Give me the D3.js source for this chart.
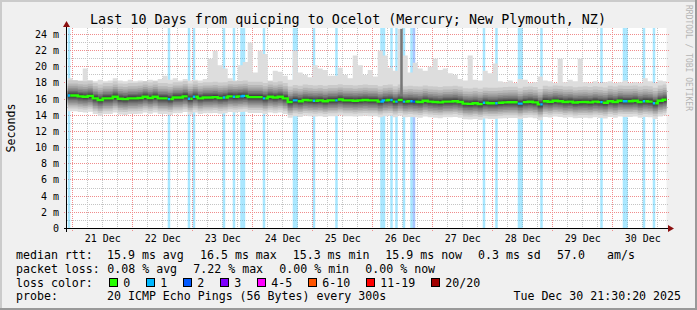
<!DOCTYPE html>
<html lang="en">
<head>
	<meta charset="utf-8">
	<title>SmokePing: Last 10 Days</title>
	<script src="https://d3js.org/d3.v7.min.js"></script>
	<style type="text/css">
		body { margin: 0; background: #f0f0f0; }
		svg text { font-family: "DejaVu Sans Mono", monospace; fill: #000; }
		.grid line { shape-rendering: crispEdges; stroke-dasharray: 1,1; }
	</style>
</head>
<body>
<script type="text/javascript">

	// Time window of the graph (wall clock times kept as UTC)
	var endTime = Date.UTC(2025, 11, 30, 21, 30, 20);
	var startTime = endTime - 10 * 24 * 3600 * 1000;
	var firstHour = Date.UTC(2025, 11, 20, 22, 0, 0);
	var HOUR = 3600 * 1000;

	// Y axis
	var yMax = 24.74;
	var yTicks = [0, 2, 4, 6, 8, 10, 12, 14, 16, 18, 20, 22, 24];
	var yMinor = [1, 3, 5, 7, 9, 11, 13, 15, 17, 19, 21, 23];

	// Median rtt (ms), one value per 2 hour bin
	var medianRtt = [
		16.45, 16.45, 16.35, 16.3, 16.4, 16.1, 15.9, 16.1, 16.1, 16.3,
		16.05, 16.0, 16.1, 16.1, 16.15, 16.3, 16.15, 16.3, 16.1, 16.1,
		16.0, 16.2, 16.2, 16.35, 16.05, 16.3, 16.1, 16.2, 16.2, 16.25,
		16.15, 16.2, 16.35, 16.3, 16.35, 16.4, 16.25, 16.25, 16.25, 16.1,
		16.3, 16.2, 16.3, 16.1, 15.65, 15.85, 15.75, 15.9, 15.85, 15.8,
		15.85, 15.75, 15.85, 15.85, 15.95, 15.85, 15.85, 15.8, 15.85, 15.9,
		15.85, 15.85, 15.7, 15.85, 15.9, 15.7, 15.9, 15.7, 15.75, 15.7,
		15.65, 15.8, 15.7, 15.65, 15.6, 15.7, 15.7, 15.75, 15.65, 15.45,
		15.42, 15.5, 15.38, 15.55, 15.5, 15.5, 15.55, 15.6, 15.62, 15.62,
		15.45, 15.63, 15.68, 15.6, 15.35, 15.75, 15.68, 15.8, 15.75, 15.65,
		15.7, 15.58, 15.63, 15.65, 15.6, 15.7, 15.63, 15.55, 15.75, 15.65,
		15.8, 15.75, 15.75, 15.8, 15.65, 15.75, 15.7, 15.5, 15.8, 15.92
	];

	// Highest ping (ms) in each 2 hour bin
	var pingMax = [
		18.6, 18.3, 18.3, 19.8, 18.3, 18.2, 18.4, 18.2, 18.3, 18.6,
		18.3, 18.2, 18.4, 18.2, 18.3, 18.2, 18.4, 18.3, 18.5, 18.9,
		18.4, 18.6, 18.3, 18.5, 18.3, 18.4, 18.3, 18.5, 21.0, 22.0,
		20.2, 19.8, 18.6, 18.3, 20.2, 20.6, 23.0, 19.3, 22.0, 21.6,
		18.3, 19.5, 19.4, 18.9, 18.4, 22.0, 19.3, 19.0, 18.7, 20.2,
		19.8, 19.6, 18.9, 18.9, 19.9, 19.0, 18.6, 21.4, 20.2, 19.0,
		19.6, 18.8, 22.0, 21.4, 19.9, 19.5, 24.7, 21.4, 19.3, 20.5,
		19.8, 19.5, 20.0, 21.0, 19.6, 19.8, 19.2, 19.0, 18.5, 18.3,
		21.4, 18.4, 18.3, 19.5, 19.2, 20.4, 18.2, 18.1, 18.3, 18.0,
		18.5, 18.4, 18.0, 18.1, 18.8, 18.3, 18.2, 18.0, 21.0, 18.1,
		18.4, 18.2, 21.0, 18.1, 18.0, 18.2, 18.0, 18.1, 18.2, 18.0,
		18.1, 18.3, 18.0, 18.1, 18.0, 18.6, 18.2, 18.0, 18.3, 18.2
	];

	// Sorted pings 1..19 around the median (ms offsets), as read from the smoke
	var smokeOffsets = [-1.95, -1.6, -1.35, -1.15, -0.95, -0.75, -0.55, -0.4, -0.25, -0.1,
		0.1, 0.25, 0.4, 0.55, 0.75, 0.95, 1.2, 1.5, 1.9];

	// Hours (counted from firstHour) with packet loss, and lost pings
	var lossHours = [0, 40, 48, 50, 62, 66, 69, 70, 78, 90, 91, 98, 107, 125, 126, 129,
		131, 134, 137, 138, 166, 171, 180, 181, 189, 213, 222, 223, 230, 234];
	var lossCounts = [1, 1, 1, 1, 1, 1, 1, 1, 1, 1, 1, 1, 1, 1, 1, 1,
		1, 1, 1, 2, 1, 1, 1, 1, 1, 1, 1, 1, 1, 1];

	// Single hour where most pings went high
	var burstHours = [133];
	var burstTops = [24.7];

	// Loss colour legend
	var lossLabels = ["0", "1", "2", "3", "4-5", "6-10", "11-19", "20/20"];
	var lossColors = ["#26ff00", "#00b8ff", "#0059ff", "#7e00ff", "#ff00ff", "#ff5500", "#ff0000", "#a10000"];

	var W = 697, H = 310;
	var plot = {left: 66.5, right: 666.5, top: 28, bottom: 228.5};

	var svg = d3.select("body")
		.append("svg")
		.attr("width", W)
		.attr("height", H);

	// Background and 3D frame
	svg.append("rect").attr("width", W).attr("height", H).attr("fill", "#f0f0f0");
	svg.append("rect").attr("x", 0).attr("y", 0).attr("width", W).attr("height", 2).attr("fill", "#cbcbcb");
	svg.append("rect").attr("x", 0).attr("y", 0).attr("width", 2).attr("height", H).attr("fill", "#cbcbcb");
	svg.append("rect").attr("x", 0).attr("y", H - 2).attr("width", W).attr("height", 2).attr("fill", "#999999");
	svg.append("rect").attr("x", W - 2).attr("y", 0).attr("width", 2).attr("height", H).attr("fill", "#999999");

	// Scales
	var xScale = d3.scaleUtc()
		.domain([startTime, endTime])
		.range([plot.left, plot.right]);

	var yScale = d3.scaleLinear()
		.domain([0, yMax])
		.range([plot.bottom, plot.top + 0.5]);

	function loss(h) {
		var i = lossHours.indexOf(h);
		return i < 0 ? 0 : lossCounts[i];
	}

	// Canvas
	svg.append("rect")
		.attr("x", plot.left).attr("y", plot.top)
		.attr("width", plot.right - plot.left)
		.attr("height", plot.bottom - plot.top)
		.attr("fill", "#ffffff");

	svg.append("clipPath").attr("id", "clip")
		.append("rect")
		.attr("x", plot.left).attr("y", plot.top)
		.attr("width", plot.right - plot.left)
		.attr("height", plot.bottom - plot.top);

	// Grid
	var grid = svg.append("g").attr("class", "grid");
	var days = d3.utcDay.range(startTime, endTime);
	var quarters = d3.utcHour.every(6).range(startTime, endTime)
		.filter(function(d) { return d.getUTCHours() !== 0; });

	function px(v) { return Math.floor(v) + 0.5; }

	grid.selectAll("line.minx").data(quarters).enter().append("line")
		.attr("x1", function(d) { return px(xScale(d)); })
		.attr("x2", function(d) { return px(xScale(d)); })
		.attr("y1", plot.top).attr("y2", plot.bottom)
		.attr("stroke", "#c4c4c4");

	grid.selectAll("line.miny").data(yMinor).enter().append("line")
		.attr("x1", plot.left).attr("x2", plot.right + 2)
		.attr("y1", function(d) { return px(yScale(d)); })
		.attr("y2", function(d) { return px(yScale(d)); })
		.attr("stroke", "#c4c4c4");

	grid.selectAll("line.majx").data(days).enter().append("line")
		.attr("x1", function(d) { return px(xScale(d)); })
		.attr("x2", function(d) { return px(xScale(d)); })
		.attr("y1", plot.top).attr("y2", plot.bottom + 3)
		.attr("stroke", "#f08c8c");

	grid.selectAll("line.majy").data(yTicks.slice(1)).enter().append("line")
		.attr("x1", plot.left - 3).attr("x2", plot.right + 2)
		.attr("y1", function(d) { return px(yScale(d)); })
		.attr("y2", function(d) { return px(yScale(d)); })
		.attr("stroke", "#f08c8c");

	var graph = svg.append("g").attr("clip-path", "url(#clip)");

	// Loss background bars
	graph.selectAll("rect.loss").data(lossHours).enter().append("rect")
		.attr("x", function(h) { return xScale(firstHour + h * HOUR); })
		.attr("width", function(h) { return xScale(firstHour + (h + 1) * HOUR) - xScale(firstHour + h * HOUR); })
		.attr("y", plot.top)
		.attr("height", plot.bottom - plot.top)
		.attr("fill", function(h, i) { return lossColors[lossCounts[i]]; })
		.attr("opacity", 0.34);

	// Smoke: sorted pings per bin, bands drawn from outside in
	var bins = medianRtt.map(function(m, j) {
		var p = smokeOffsets.map(function(o) { return m + o; });
		p.push(Math.max(pingMax[j], p[18]));
		return {t: firstHour + 2 * j * HOUR, p: p};
	});
	bins.push({t: firstHour + 2 * bins.length * HOUR, p: bins[bins.length - 1].p});

	for (var b = 0; b < 10; b++) {
		var g = Math.floor(190 / 10 * (10 - (b + 1))) + 50;
		var area = d3.area()
			.curve(d3.curveStepAfter)
			.x(function(d) { return xScale(d.t); })
			.y0(function(d) { return yScale(d.p[b]); })
			.y1(function(d) { return yScale(d.p[19 - b]); });
		graph.append("path")
			.datum(bins)
			.attr("d", area)
			.attr("fill", d3.rgb(g, g, g));
	}

	// Hour where the pings burst upwards
	graph.selectAll("rect.burst").data(burstHours).enter().append("rect")
		.attr("x", function(h) { return xScale(firstHour + h * HOUR); })
		.attr("width", 2.5)
		.attr("y", function(h, i) { return yScale(burstTops[i]); })
		.attr("height", function(h, i) {
			return yScale(medianRtt[h >> 1] + 0.5) - yScale(burstTops[i]);
		})
		.attr("fill", "#777777");

	// Median line, coloured by loss
	var runs = [];
	for (var h = 0; h < medianRtt.length * 2; h++) {
		var c = lossColors[loss(h)];
		var pt = {t: firstHour + h * HOUR, v: medianRtt[h >> 1]};
		if (!runs.length || runs[runs.length - 1].color !== c) {
			runs.push({color: c, pts: []});
		}
		var run = runs[runs.length - 1];
		run.pts.push(pt);
		run.last = {t: firstHour + (h + 1) * HOUR, v: pt.v};
	}
	var medLine = d3.line()
		.curve(d3.curveStepAfter)
		.x(function(d) { return xScale(d.t); })
		.y(function(d) { return yScale(d.v); });

	runs.forEach(function(r) {
		graph.append("path")
			.attr("d", medLine(r.pts.concat([r.last])))
			.attr("fill", "none")
			.attr("stroke", r.color)
			.attr("stroke-width", 2.4);
	});

	// Axes
	svg.append("line")
		.attr("x1", plot.left - 3).attr("x2", plot.right + 3)
		.attr("y1", 228.5).attr("y2", 228.5)
		.attr("stroke", "#000").attr("shape-rendering", "crispEdges");
	svg.append("line")
		.attr("x1", plot.left).attr("x2", plot.left)
		.attr("y1", plot.bottom + 3).attr("y2", plot.top - 2)
		.attr("stroke", "#000").attr("shape-rendering", "crispEdges");
	svg.append("path")
		.attr("d", "M668,225L674,228.5L668,232Z")
		.attr("fill", "#8b1010");
	svg.append("path")
		.attr("d", "M63,27L66.5,21L70,27Z")
		.attr("fill", "#8b1010");

	// Axis labels
	svg.selectAll("text.ylab").data(yTicks).enter().append("text")
		.attr("x", 59)
		.attr("y", function(d) { return yScale(d); })
		.attr("text-anchor", "end")
		.attr("dominant-baseline", "central")
		.attr("font-size", "10px")
		.text(function(d) { return d === 0 ? "0" : d + " m"; });

	var dayFormat = d3.utcFormat("%d %b");
	svg.selectAll("text.xlab").data(days).enter().append("text")
		.attr("x", function(d) { return xScale(d.getTime() + 12 * HOUR); })
		.attr("y", 238)
		.attr("text-anchor", "middle")
		.attr("dominant-baseline", "central")
		.attr("font-size", "10px")
		.text(function(d) { return dayFormat(d); });

	svg.append("text")
		.attr("transform", "translate(11,128) rotate(-90)")
		.attr("text-anchor", "middle")
		.attr("dominant-baseline", "central")
		.attr("font-size", "11.6px")
		.text("Seconds");

	// Title and watermark
	svg.append("text")
		.attr("x", 348).attr("y", 19.5)
		.attr("text-anchor", "middle")
		.attr("dominant-baseline", "central")
		.attr("font-size", "13.4px")
		.text("Last 10 Days from quicping to Ocelot (Mercury; New Plymouth, NZ)");

	svg.append("text")
		.attr("transform", "translate(688,5) rotate(90)")
		.attr("dominant-baseline", "central")
		.attr("font-size", "8px")
		.style("fill", "#b4b4b4")
		.text("RRDTOOL / TOBI OETIKER");

	// Legend
	var legendRows = [
		{y: 255, items: [[16, "median rtt:"], [107, "15.9 ms avg"], [200, "16.5 ms max"], [292.7, "15.3 ms min"],
			[385.3, "15.9 ms now"], [478, "0.3 ms sd"], [557, "57.0"], [607, "am/s"]]},
		{y: 268.7, items: [[16, "packet loss:"], [107.3, "0.08 % avg"], [193.3, "7.22 % max"], [279.3, "0.00 % min"],
			[365.3, "0.00 % now"]]},
		{y: 282.7, items: [[16, "loss color:"]]},
		{y: 296.3, items: [[16, "probe:"], [107, "20 ICMP Echo Pings (56 Bytes) every 300s"]]}
	];
	legendRows.forEach(function(row) {
		row.items.forEach(function(it) {
			svg.append("text")
				.attr("x", it[0]).attr("y", row.y)
				.attr("dominant-baseline", "central")
				.attr("font-size", "11.6px")
				.text(it[1]);
		});
	});

	svg.append("text")
		.attr("x", 681).attr("y", 296.3)
		.attr("text-anchor", "end")
		.attr("dominant-baseline", "central")
		.attr("font-size", "11.6px")
		.text("Tue Dec 30 21:30:20 2025");

	// Loss colour swatches
	var lx = 108.7;
	lossLabels.forEach(function(lab, i) {
		svg.append("rect")
			.attr("x", lx + 0.5).attr("y", 278.5)
			.attr("width", 8).attr("height", 8)
			.attr("fill", lossColors[i])
			.attr("stroke", "#000")
			.attr("shape-rendering", "crispEdges");
		svg.append("text")
			.attr("x", lx + 14.6).attr("y", 282.7)
			.attr("dominant-baseline", "central")
			.attr("font-size", "11.6px")
			.text(lab);
		lx += 30 + lab.length * 7;
	});

</script>
</body>
</html>
